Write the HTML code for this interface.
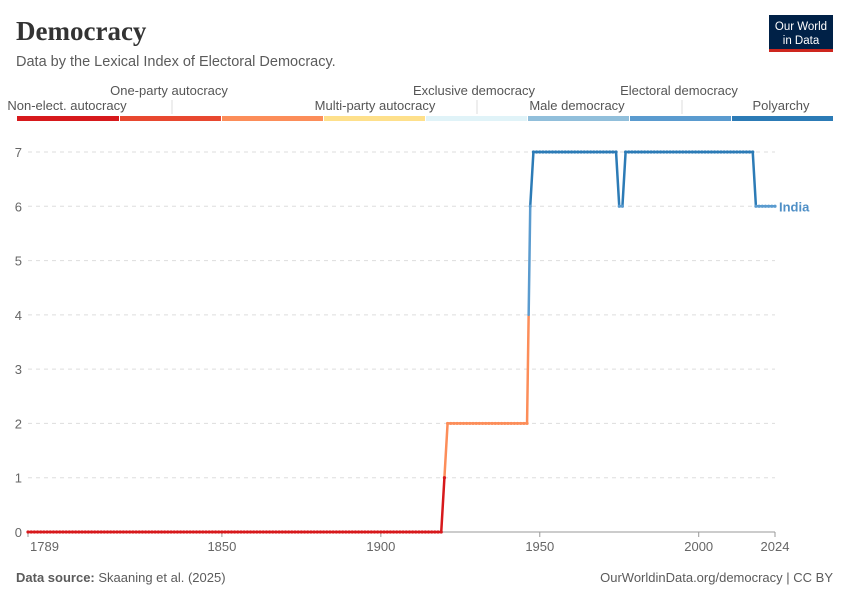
<!DOCTYPE html>
<html><head><meta charset="utf-8">
<style>
body{margin:0;background:#fff;font-family:"Liberation Sans",sans-serif;}
#wrap{position:relative;width:850px;height:600px;overflow:hidden;}
</style></head>
<body>
<div id="wrap">
<svg id="chart" width="850" height="600" xmlns="http://www.w3.org/2000/svg">
  <text x="16" y="40" font-family="Liberation Serif,serif" font-size="27" font-weight="bold" fill="#333">Democracy</text>
  <text x="16" y="66" font-size="14.5" fill="#5b5b5b">Data by the Lexical Index of Electoral Democracy.</text>
  <g>
    <rect x="769" y="15" width="64" height="37" fill="#002147"/>
    <rect x="769" y="49" width="64" height="3" fill="#ce261e"/>
    <text x="801" y="30" font-size="11.5" fill="#fff" text-anchor="middle">Our World</text>
    <text x="801" y="44" font-size="11.5" fill="#fff" text-anchor="middle">in Data</text>
  </g>
  <g id="legend"></g>
  <g id="grid"></g>
  <g id="yaxis"></g>
  <g id="xaxis"></g>
  <g id="series"></g>
  <text x="16" y="582" font-size="13" fill="#5b5b5b"><tspan font-weight="bold">Data source:</tspan> Skaaning et al. (2025)</text>
  <text x="833" y="582" font-size="13" fill="#5b5b5b" text-anchor="end">OurWorldinData.org/democracy | CC BY</text>
</svg>
</div>
<script>
const legendLabels=["Non-elect. autocracy","One-party autocracy","","Multi-party autocracy","Exclusive democracy","Male democracy","Electoral democracy","Polyarchy"];
const legendColors=["#d7191c","#e8482f","#fc8d59","#fee08b","#e0f3f8","#91bfdb","#5a9bcf","#2c7bb6"];
const yTicks=[0,1,2,3,4,5,6,7];
const xTicks=[1789,1850,1900,1950,2000,2024];
// India series: [startYear, endYear, value]
const runs=[[1789,1919,0],[1920,1920,1],[1921,1946,2],[1947,1947,6],[1948,1974,7],[1975,1976,6],[1977,2017,7],[2018,2024,6]];
const seriesName="India";

const NS="http://www.w3.org/2000/svg";
const X0=28,X1=775,Y0=532,Y7=152;
const x=y=>X0+(y-1789)*(X1-X0)/(2024-1789);
const yv=v=>Y0+(Y7-Y0)*v/7;
function mk(tag,attrs,parent){const e=document.createElementNS(NS,tag);for(const k in attrs)e.setAttribute(k,attrs[k]);parent.appendChild(e);return e;}

// legend
const lg=document.getElementById('legend');
const segW=(833-17)/legendColors.length;
legendColors.forEach((c,i)=>{
  const r=mk('rect',{x:17+i*segW+(i?1:0),y:116,width:segW-(i?1:0),height:5,fill:c},lg);
  
  
});
const labelPos=[{i:0,row:1},{i:1,row:0},{i:3,row:1},{i:4,row:0},{i:5,row:1},{i:6,row:0},{i:7,row:1}];
labelPos.forEach(p=>{
  let cx=17+(p.i+0.5)*segW;
  if(p.i===3)cx=375; if(p.i===4)cx=474; if(p.i===6)cx=679; if(p.i===5)cx=577; if(p.i===7)cx=781; if(p.i===1)cx=169; if(p.i===0)cx=67;
  const t=mk('text',{x:cx,y:p.row?110:95,'font-size':13,fill:'#555','text-anchor':'middle'},lg);
  t.textContent=legendLabels[p.i];
  
  
  if(!p.row){const l=mk('line',{x1:cx+3,x2:cx+3,y1:100,y2:114,stroke:'#ddd'},lg);
    
    }
});

// grid & y axis
const gg=document.getElementById('grid'),ya=document.getElementById('yaxis');
yTicks.forEach(v=>{
  if(v>0){const l=mk('line',{x1:X0,x2:X1,y1:yv(v),y2:yv(v),stroke:'#ddd','stroke-dasharray':'4,4'},gg);
    
    }
  const t=mk('text',{x:22,y:yv(v)+5,'font-size':13,fill:'#666','text-anchor':'end'},ya);
  t.textContent=v;
  
  
});
const xa=document.getElementById('xaxis');
mk('line',{x1:X0,x2:X1,y1:Y0,y2:Y0,stroke:'#999'},xa);
xTicks.forEach((yr,i)=>{
  mk('line',{x1:x(yr),x2:x(yr),y1:Y0,y2:Y0+5,stroke:'#999'},xa);
  const t=mk('text',{x:i===0?x(yr)+2:x(yr),y:551,'font-size':13,fill:'#666','text-anchor':i===0?'start':'middle'},xa);
  t.textContent=yr;
  
  
});

// series
const pts=[];
runs.forEach(r=>{for(let y=r[0];y<=r[1];y++)pts.push([y,r[2]]);});
function colorFor(lo,hi){ // colour by band of segment piece
  const m=(lo+hi)/2;
  if(m<=1)return legendColors[0];
  if(m<=4)return legendColors[2];
  if(m<=6)return legendColors[6];
  return legendColors[7];
}
const sg=document.getElementById('series');
const bounds=[1,4,6];
for(let i=1;i<pts.length;i++){
  const [ya0,v0]=pts[i-1],[ya1,v1]=pts[i];
  const cuts=[v0];
  bounds.forEach(b=>{if((b>Math.min(v0,v1))&&(b<Math.max(v0,v1)))cuts.push(b);});
  cuts.push(v1);
  if(v1<v0)cuts.sort((a,b)=>b-a);else cuts.sort((a,b)=>a-b);
  for(let k=1;k<cuts.length;k++){
    const fa=(v1===v0)?0:(cuts[k-1]-v0)/(v1-v0),fb=(v1===v0)?1:(cuts[k]-v0)/(v1-v0);
    const l=mk('line',{x1:x(ya0+fa*(ya1-ya0)),y1:yv(cuts[k-1]),x2:x(ya0+fb*(ya1-ya0)),y2:yv(cuts[k]),
      stroke:colorFor(Math.min(cuts[k-1],cuts[k]),Math.max(cuts[k-1],cuts[k])),'stroke-width':2.5,'stroke-linecap':'round'},sg);
    
    
  }
}
pts.forEach(p=>{
  const c=mk('circle',{cx:x(p[0]),cy:yv(p[1]),r:1.6,fill:colorFor(p[1],p[1])},sg);
  
  
});
const last=pts[pts.length-1];
const lab=mk('text',{x:x(last[0])+4,y:yv(last[1])+5,'font-size':13,'font-weight':'bold',fill:'#4f8fc6'},sg);
lab.textContent=seriesName;


</script>
</body></html>
